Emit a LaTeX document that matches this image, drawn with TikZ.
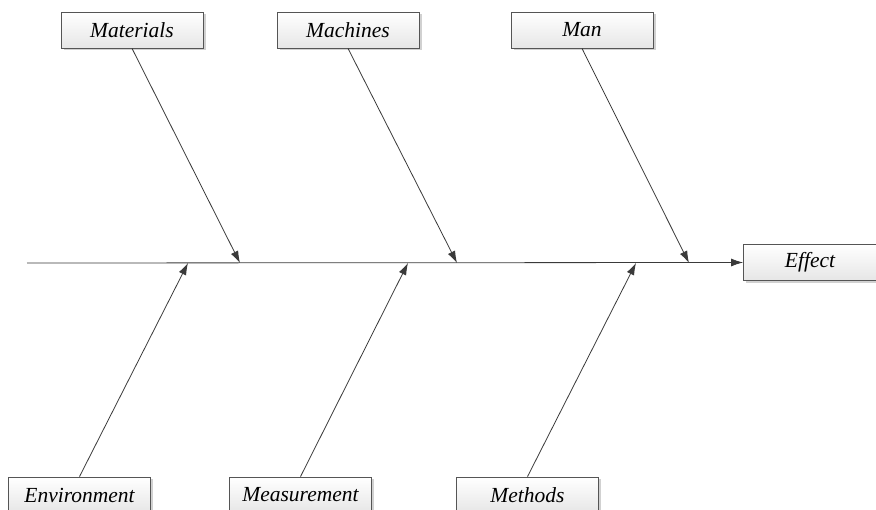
\documentclass[tikz,border=0pt]{standalone}
\usepackage{fontspec}
\setmainfont{Liberation Serif}[ItalicFont={Liberation Serif Italic}]
\usetikzlibrary{arrows.meta,shadows}
\definecolor{lineC}{HTML}{3A3A3A}
\definecolor{boxC}{HTML}{555555}
\definecolor{shadeC}{HTML}{E6E6E6}
\begin{document}
\begin{tikzpicture}[x=1pt,y=-1pt,
  causebox/.style={draw=boxC, line width=0.8pt, top color=white, bottom color=shadeC,
    minimum width=142pt, minimum height=36pt, inner sep=0pt,
    font=\fontsize{21.5}{24}\selectfont\itshape,
    drop shadow={shadow xshift=2.5pt, shadow yshift=-2.5pt, fill=black!18, opacity=1}},
  bone/.style={draw=lineC, line width=0.8pt, -{Latex[length=12pt,width=8pt]}}]
\useasboundingbox (0,0) rectangle (876,510);
\clip (0,0) rectangle (876,510);
\node[causebox] (materials) at (132,30) {Materials};
\node[causebox] (machines) at (348,30) {Machines};
\node[causebox] (man) at (582,30) {Man};
\node[causebox, minimum width=133pt] (effect) at (810,262.5) {Effect};
\node[causebox] (environment) at (79.5,495) {Environment};
\node[causebox] (measurement) at (300.5,495) {Measurement};
\node[causebox] (methods) at (527.5,495) {Methods};
\coordinate (tail) at (27,263);
\coordinate (t1) at (240,263);
\coordinate (t2) at (457,263);
\coordinate (t3) at (689,263);
\coordinate (b1) at (188,263);
\coordinate (b2) at (408,263);
\coordinate (b3) at (636,263);
\draw[bone] (tail) -- (effect.west);
\draw[bone] (materials.south) -- (t1);
\draw[bone] (machines.south) -- (t2);
\draw[bone] (man.south) -- (t3);
\draw[bone] (environment.north) -- (b1);
\draw[bone] (measurement.north) -- (b2);
\draw[bone] (methods.north) -- (b3);
\end{tikzpicture}
\end{document}
